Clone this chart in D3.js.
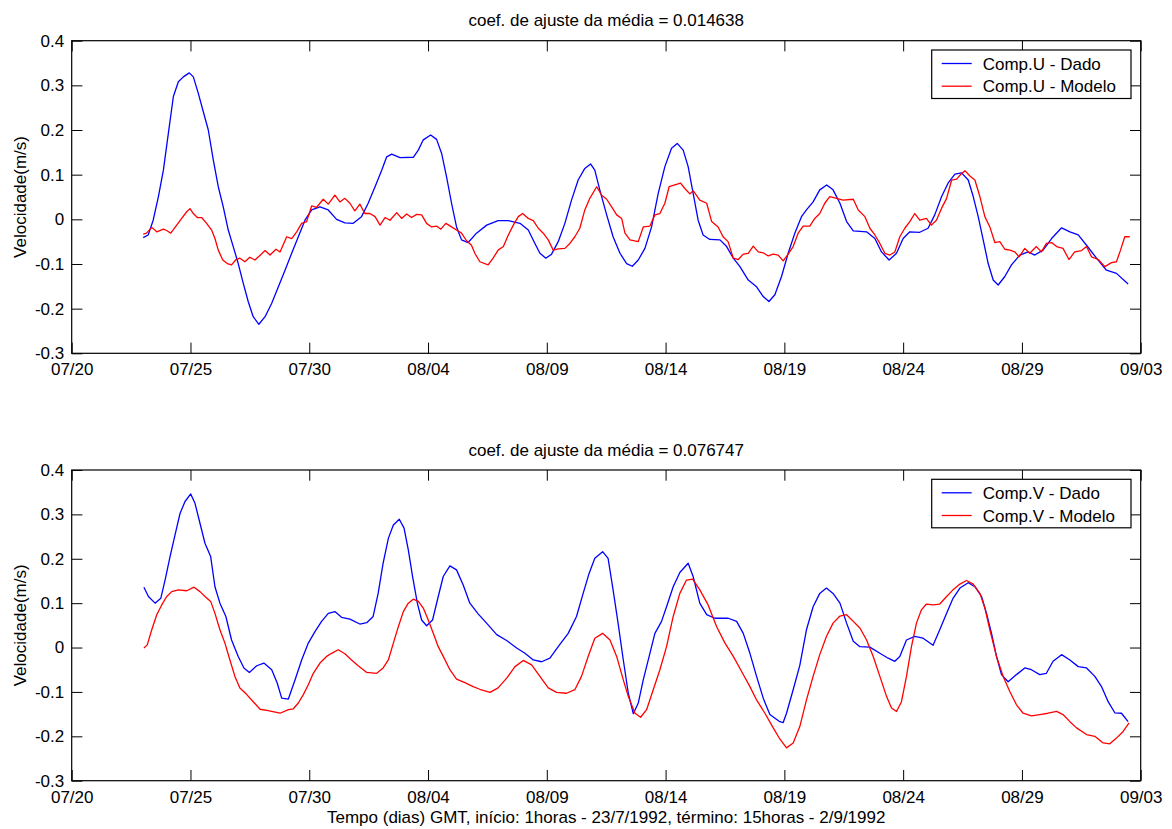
<!DOCTYPE html>
<html>
<head>
<meta charset="utf-8">
<script src="https://cdn.jsdelivr.net/npm/d3@7"></script>
<style>
  body { margin: 0; background: #fff; }
  svg text { font-family: 'Liberation Sans', Arial, sans-serif; font-size: 17px; fill: #000; }
</style>
</head>
<body>
<svg width="1172" height="829"></svg>
<script>
// days after 1992-07-20 00h, value in m/s
const compUDado = [[3.01,-0.041],[3.22,-0.035],[3.43,-0.002],[3.65,0.051],[3.86,0.110],[4.07,0.193],[4.28,0.275],[4.49,0.308],[4.70,0.319],[4.95,0.328],[5.12,0.319],[5.33,0.282],[5.54,0.241],[5.75,0.200],[5.96,0.133],[6.17,0.073],[6.38,0.028],[6.59,-0.024],[6.80,-0.061],[7.01,-0.099],[7.22,-0.143],[7.43,-0.184],[7.64,-0.218],[7.88,-0.235],[8.14,-0.218],[8.42,-0.188],[8.70,-0.151],[8.98,-0.114],[9.26,-0.076],[9.54,-0.039],[9.82,-0.002],[10.10,0.021],[10.45,0.028],[10.80,0.021],[11.15,0.000],[11.50,-0.008],[11.85,-0.009],[12.20,0.006],[12.48,0.036],[12.77,0.073],[13.05,0.110],[13.26,0.140],[13.47,0.146],[13.82,0.138],[14.38,0.139],[14.59,0.155],[14.80,0.178],[15.11,0.189],[15.36,0.179],[15.57,0.148],[15.78,0.095],[15.99,0.036],[16.20,-0.017],[16.41,-0.046],[16.69,-0.052],[17.04,-0.031],[17.47,-0.013],[17.95,-0.003],[18.38,-0.003],[18.87,-0.009],[19.22,-0.024],[19.50,-0.054],[19.71,-0.076],[19.96,-0.087],[20.20,-0.078],[20.48,-0.050],[20.76,-0.009],[21.04,0.043],[21.32,0.088],[21.60,0.114],[21.84,0.124],[22.02,0.110],[22.23,0.066],[22.52,0.010],[22.79,-0.039],[23.08,-0.076],[23.36,-0.099],[23.60,-0.105],[23.85,-0.091],[24.13,-0.065],[24.41,-0.017],[24.69,0.058],[24.97,0.118],[25.25,0.159],[25.49,0.170],[25.74,0.155],[25.95,0.118],[26.16,0.058],[26.37,-0.002],[26.58,-0.035],[26.86,-0.045],[27.29,-0.046],[27.57,-0.061],[27.85,-0.087],[28.13,-0.106],[28.48,-0.136],[28.83,-0.151],[29.11,-0.173],[29.35,-0.184],[29.60,-0.169],[29.88,-0.128],[30.16,-0.076],[30.44,-0.031],[30.72,0.006],[30.93,0.021],[31.21,0.039],[31.49,0.066],[31.78,0.077],[32.05,0.066],[32.34,0.036],[32.62,-0.005],[32.90,-0.026],[33.46,-0.028],[33.81,-0.043],[34.09,-0.073],[34.41,-0.091],[34.72,-0.076],[35.00,-0.043],[35.28,-0.028],[35.70,-0.029],[36.05,-0.020],[36.33,0.010],[36.62,0.051],[36.89,0.081],[37.18,0.101],[37.46,0.104],[37.74,0.088],[37.95,0.051],[38.16,0.006],[38.37,-0.046],[38.58,-0.099],[38.79,-0.136],[39.00,-0.147],[39.28,-0.128],[39.56,-0.102],[39.91,-0.080],[40.26,-0.073],[40.54,-0.080],[40.89,-0.069],[41.25,-0.043],[41.67,-0.019],[42.02,-0.028],[42.37,-0.035],[42.72,-0.058],[43.14,-0.087],[43.56,-0.114],[43.98,-0.121],[44.47,-0.145]];

const compUModelo = [[3.01,-0.033],[3.15,-0.031],[3.37,-0.018],[3.58,-0.028],[3.86,-0.022],[4.00,-0.025],[4.17,-0.031],[4.42,-0.013],[4.63,0.002],[4.84,0.017],[4.98,0.024],[5.12,0.013],[5.29,0.004],[5.47,0.004],[5.68,-0.009],[5.89,-0.024],[6.03,-0.043],[6.17,-0.069],[6.36,-0.091],[6.55,-0.099],[6.73,-0.102],[6.92,-0.090],[7.08,-0.087],[7.29,-0.095],[7.50,-0.085],[7.71,-0.091],[7.90,-0.082],[8.14,-0.070],[8.35,-0.080],[8.60,-0.067],[8.77,-0.073],[9.05,-0.039],[9.26,-0.043],[9.47,-0.028],[9.68,-0.009],[9.89,-0.005],[10.10,0.030],[10.31,0.027],[10.59,0.045],[10.80,0.034],[11.08,0.054],[11.29,0.039],[11.50,0.047],[11.71,0.036],[11.92,0.019],[12.13,0.034],[12.34,0.013],[12.55,0.013],[12.77,0.006],[12.98,-0.013],[13.19,0.004],[13.40,-0.002],[13.68,0.015],[13.89,0.002],[14.10,0.012],[14.31,0.004],[14.52,0.011],[14.73,0.010],[14.94,-0.009],[15.15,-0.017],[15.36,-0.015],[15.54,-0.022],[15.75,-0.009],[15.99,-0.017],[16.20,-0.024],[16.41,-0.031],[16.62,-0.048],[16.83,-0.058],[16.97,-0.076],[17.18,-0.095],[17.53,-0.102],[17.74,-0.087],[17.95,-0.069],[18.17,-0.061],[18.38,-0.035],[18.59,-0.013],[18.80,0.006],[18.98,0.013],[19.22,0.002],[19.43,-0.003],[19.64,-0.020],[19.85,-0.031],[20.06,-0.046],[20.27,-0.069],[20.48,-0.066],[20.76,-0.065],[20.97,-0.054],[21.18,-0.039],[21.39,-0.020],[21.60,0.021],[21.81,0.047],[22.10,0.073],[22.31,0.054],[22.52,0.045],[22.73,0.028],[22.94,0.010],[23.15,0.002],[23.29,-0.031],[23.50,-0.046],[23.85,-0.050],[24.06,-0.017],[24.34,-0.015],[24.55,0.010],[24.76,0.013],[24.97,0.036],[25.15,0.073],[25.39,0.077],[25.63,0.081],[25.81,0.069],[26.02,0.057],[26.16,0.064],[26.44,0.043],[26.73,0.036],[26.94,-0.005],[27.21,-0.017],[27.42,-0.039],[27.63,-0.050],[27.85,-0.087],[28.06,-0.090],[28.27,-0.078],[28.48,-0.076],[28.69,-0.060],[28.90,-0.073],[29.11,-0.075],[29.32,-0.082],[29.53,-0.078],[29.74,-0.080],[29.95,-0.093],[30.16,-0.078],[30.37,-0.061],[30.58,-0.031],[30.79,-0.015],[31.07,-0.015],[31.28,0.002],[31.49,0.013],[31.70,0.036],[31.91,0.051],[32.20,0.047],[32.47,0.043],[32.90,0.045],[33.11,0.021],[33.39,0.006],[33.60,-0.020],[33.81,-0.035],[34.02,-0.054],[34.23,-0.076],[34.44,-0.080],[34.65,-0.073],[34.86,-0.039],[35.07,-0.020],[35.28,-0.005],[35.49,0.013],[35.70,-0.002],[35.98,0.002],[36.19,-0.013],[36.40,-0.002],[36.62,0.025],[36.83,0.047],[37.04,0.088],[37.25,0.090],[37.43,0.101],[37.60,0.109],[37.81,0.097],[38.02,0.088],[38.23,0.051],[38.44,0.006],[38.65,-0.017],[38.86,-0.052],[39.07,-0.050],[39.28,-0.067],[39.49,-0.069],[39.70,-0.073],[39.88,-0.084],[40.12,-0.065],[40.33,-0.076],[40.61,-0.061],[40.82,-0.073],[41.03,-0.054],[41.25,-0.052],[41.46,-0.061],[41.73,-0.065],[41.98,-0.090],[42.22,-0.073],[42.51,-0.070],[42.72,-0.061],[42.93,-0.084],[43.21,-0.090],[43.49,-0.106],[43.77,-0.097],[43.98,-0.095],[44.15,-0.069],[44.33,-0.039],[44.54,-0.039]];

const compVDado = [[3.04,0.136],[3.23,0.115],[3.51,0.100],[3.75,0.111],[3.93,0.152],[4.14,0.205],[4.35,0.254],[4.56,0.302],[4.77,0.329],[5.01,0.346],[5.19,0.325],[5.40,0.280],[5.61,0.235],[5.85,0.205],[6.03,0.137],[6.24,0.100],[6.49,0.070],[6.73,0.017],[7.01,-0.020],[7.25,-0.046],[7.48,-0.056],[7.79,-0.041],[8.09,-0.035],[8.42,-0.050],[8.65,-0.080],[8.84,-0.114],[9.12,-0.116],[9.40,-0.073],[9.68,-0.028],[9.96,0.010],[10.24,0.036],[10.52,0.059],[10.80,0.077],[11.08,0.081],[11.36,0.068],[11.71,0.064],[12.13,0.053],[12.42,0.056],[12.69,0.070],[12.90,0.122],[13.11,0.190],[13.33,0.246],[13.54,0.276],[13.79,0.289],[13.99,0.269],[14.17,0.220],[14.35,0.160],[14.55,0.100],[14.73,0.062],[14.94,0.049],[15.19,0.062],[15.43,0.115],[15.64,0.160],[15.92,0.184],[16.20,0.175],[16.48,0.141],[16.76,0.100],[17.11,0.076],[17.53,0.051],[17.89,0.029],[18.31,0.016],[18.73,-0.001],[19.08,-0.013],[19.43,-0.028],[19.78,-0.032],[20.13,-0.024],[20.48,0.002],[20.90,0.032],[21.25,0.070],[21.53,0.122],[21.78,0.167],[22.02,0.201],[22.35,0.216],[22.58,0.201],[22.79,0.130],[23.00,0.055],[23.22,-0.028],[23.43,-0.103],[23.64,-0.149],[23.85,-0.125],[24.06,-0.073],[24.34,-0.013],[24.55,0.032],[24.83,0.059],[25.04,0.092],[25.32,0.137],[25.60,0.169],[25.95,0.190],[26.16,0.160],[26.44,0.100],[26.73,0.074],[27.07,0.066],[27.64,0.066],[27.99,0.059],[28.27,0.032],[28.55,-0.013],[28.83,-0.065],[29.11,-0.114],[29.39,-0.151],[29.81,-0.167],[29.95,-0.169],[30.09,-0.148],[30.37,-0.095],[30.65,-0.040],[30.93,0.040],[31.21,0.092],[31.49,0.122],[31.77,0.134],[32.05,0.122],[32.34,0.100],[32.62,0.055],[32.90,0.014],[33.18,0.002],[33.60,0.001],[34.02,-0.013],[34.37,-0.024],[34.65,-0.031],[34.86,-0.020],[35.14,0.017],[35.49,0.025],[35.84,0.021],[36.26,0.005],[36.54,0.040],[36.83,0.077],[37.10,0.111],[37.39,0.134],[37.74,0.146],[38.02,0.137],[38.30,0.115],[38.51,0.077],[38.72,0.032],[38.93,-0.020],[39.14,-0.061],[39.42,-0.077],[39.77,-0.061],[40.12,-0.046],[40.40,-0.050],[40.75,-0.061],[41.03,-0.058],[41.31,-0.031],[41.67,-0.016],[42.02,-0.028],[42.37,-0.043],[42.72,-0.046],[43.07,-0.065],[43.35,-0.088],[43.63,-0.122],[43.91,-0.147],[44.19,-0.148],[44.47,-0.167]];

const compVModelo = [[3.04,-0.001],[3.18,0.006],[3.37,0.040],[3.58,0.074],[3.79,0.096],[4.00,0.115],[4.21,0.126],[4.49,0.130],[4.84,0.128],[5.15,0.136],[5.40,0.126],[5.61,0.115],[5.85,0.104],[6.03,0.077],[6.24,0.040],[6.45,0.010],[6.66,-0.028],[6.87,-0.065],[7.08,-0.091],[7.37,-0.106],[7.64,-0.122],[7.93,-0.139],[8.27,-0.142],[8.77,-0.148],[9.12,-0.140],[9.33,-0.138],[9.54,-0.125],[9.75,-0.106],[9.96,-0.084],[10.17,-0.058],[10.45,-0.035],[10.73,-0.020],[10.94,-0.013],[11.22,-0.005],[11.50,-0.014],[11.78,-0.028],[12.06,-0.041],[12.42,-0.056],[12.84,-0.058],[13.11,-0.046],[13.33,-0.028],[13.54,0.010],[13.75,0.047],[13.96,0.081],[14.17,0.100],[14.38,0.109],[14.59,0.104],[14.80,0.089],[15.01,0.062],[15.22,0.032],[15.43,0.002],[15.64,-0.020],[15.92,-0.050],[16.20,-0.071],[16.55,-0.079],[16.90,-0.088],[17.18,-0.094],[17.61,-0.101],[17.95,-0.091],[18.31,-0.069],[18.66,-0.043],[19.01,-0.029],[19.36,-0.039],[19.71,-0.065],[20.06,-0.091],[20.41,-0.101],[20.83,-0.103],[21.18,-0.095],[21.46,-0.065],[21.74,-0.020],[22.02,0.021],[22.35,0.032],[22.66,0.017],[22.94,-0.020],[23.22,-0.073],[23.43,-0.110],[23.71,-0.148],[23.95,-0.157],[24.20,-0.140],[24.48,-0.095],[24.76,-0.050],[25.04,0.002],[25.32,0.070],[25.60,0.122],[25.88,0.152],[26.14,0.154],[26.44,0.130],[26.79,0.096],[27.15,0.047],[27.50,0.010],[27.85,-0.020],[28.20,-0.054],[28.55,-0.088],[28.83,-0.118],[29.18,-0.148],[29.53,-0.181],[29.81,-0.206],[30.09,-0.226],[30.37,-0.215],[30.65,-0.178],[30.93,-0.118],[31.21,-0.065],[31.49,-0.016],[31.77,0.025],[32.05,0.055],[32.34,0.071],[32.62,0.074],[32.90,0.059],[33.18,0.044],[33.46,0.017],[33.74,-0.020],[34.02,-0.065],[34.30,-0.110],[34.51,-0.136],[34.72,-0.144],[34.93,-0.122],[35.14,-0.065],[35.35,0.002],[35.56,0.055],[35.77,0.085],[35.98,0.098],[36.26,0.096],[36.54,0.098],[36.83,0.115],[37.10,0.130],[37.39,0.143],[37.67,0.151],[37.95,0.143],[38.23,0.122],[38.44,0.089],[38.65,0.040],[38.93,-0.020],[39.21,-0.065],[39.49,-0.099],[39.77,-0.129],[40.05,-0.148],[40.40,-0.154],[40.75,-0.151],[41.10,-0.148],[41.46,-0.144],[41.73,-0.151],[42.02,-0.167],[42.30,-0.181],[42.72,-0.196],[43.07,-0.200],[43.42,-0.215],[43.70,-0.217],[43.98,-0.204],[44.26,-0.189],[44.51,-0.170]];

const yTicks = [-0.3, -0.2, -0.1, 0, 0.1, 0.2, 0.3, 0.4];
const titles = ['coef. de ajuste da média = 0.014638', 'coef. de ajuste da média = 0.076747'];
const legendU = ['Comp.U - Dado', 'Comp.U - Modelo'];
const legendV = ['Comp.V - Dado', 'Comp.V - Modelo'];
const yAxisLabel = 'Velocidade(m/s)';
const xAxisLabel = 'Tempo (dias) GMT, início: 1horas - 23/7/1992, término: 15horas - 2/9/1992';

const svg = d3.select('svg');
const start = Date.UTC(1992, 6, 20);
const toDate = (d) => new Date(start + d * 864e5);
const xTicks = d3.range(0, 46, 5).map(toDate);

const left = 71.7, right = 1140.7, tick = 10.7;
const xScale = d3.scaleUtc()
    .domain([toDate(0), toDate(45)])
    .range([left, right]);

const colors = ['#0000ff', '#ff0000'];

const drawPanel = (top, bottom, series, legend, title) => {
    const yScale = d3.scaleLinear().domain([-0.3, 0.4]).range([bottom, top]);
    const g = svg.append('g');

    const xAxis = d3.axisBottom(xScale)
        .tickValues(xTicks)
        .tickFormat(d3.utcFormat('%m/%d'))
        .tickSizeInner(-tick).tickSizeOuter(0).tickPadding(10);
    const xAxisG = g.append('g')
        .attr('transform', `translate(0, ${bottom})`)
        .call(xAxis);

    g.append('g')
        .attr('transform', `translate(0, ${top})`)
        .call(d3.axisTop(xScale).tickValues(xTicks).tickFormat('')
            .tickSizeInner(-tick).tickSizeOuter(0));

    const yAxis = d3.axisLeft(yScale)
        .tickValues(yTicks)
        .tickFormat((d) => String(+d.toFixed(1)))
        .tickSizeInner(-tick).tickSizeOuter(0).tickPadding(7.5);
    const yAxisG = g.append('g')
        .attr('transform', `translate(${left}, 0)`)
        .call(yAxis);

    g.append('g')
        .attr('transform', `translate(${right}, 0)`)
        .call(d3.axisRight(yScale).tickValues(yTicks).tickFormat('')
            .tickSizeInner(-tick).tickSizeOuter(0));

    g.selectAll('.domain').remove();
    g.selectAll('.tick line').attr('stroke', '#000');
    g.selectAll('.tick text').attr('fill', '#000').style('font-size', '17px')
        .style('font-family', "'Liberation Sans', Arial, sans-serif");

    const line = d3.line()
        .x((d) => xScale(toDate(d[0])))
        .y((d) => yScale(d[1]));

    series.forEach((s, i) => {
        g.append('path')
            .datum(s)
            .attr('fill', 'none')
            .attr('stroke', colors[i])
            .attr('stroke-width', 1.3)
            .attr('stroke-linejoin', 'round')
            .attr('d', line);
    });

    g.append('rect')
        .attr('x', left).attr('y', top)
        .attr('width', right - left).attr('height', bottom - top)
        .attr('fill', 'none').attr('stroke', '#000').attr('stroke-width', 1.2);

    g.append('text')
        .attr('x', (left + right) / 2)
        .attr('y', top - 14.5)
        .attr('text-anchor', 'middle')
        .text(title);

    g.append('text')
        .attr('transform', `translate(20, ${(top + bottom) / 2}) rotate(-90)`)
        .attr('text-anchor', 'middle')
        .attr('dy', '0.35em')
        .text(yAxisLabel);

    // legend
    const lg = g.append('g').attr('transform', `translate(931.7, ${top + 9.3})`);
    lg.append('rect')
        .attr('width', 199.3).attr('height', 48.5)
        .attr('fill', '#fff').attr('stroke', '#000').attr('stroke-width', 1.2);
    legend.forEach((label, i) => {
        const ly = 13.5 + i * 22.7;
        lg.append('line')
            .attr('x1', 10).attr('x2', 40).attr('y1', ly).attr('y2', ly)
            .attr('stroke', colors[i]).attr('stroke-width', 1.3);
        lg.append('text')
            .attr('x', 51).attr('y', ly).attr('dy', '0.36em')
            .text(label);
    });
};

drawPanel(40.7, 353.3, [compUDado, compUModelo], legendU, titles[0]);
drawPanel(470, 780.7, [compVDado, compVModelo], legendV, titles[1]);

svg.append('text')
    .attr('x', (left + right) / 2)
    .attr('y', 823)
    .attr('text-anchor', 'middle')
    .text(xAxisLabel);
</script>
</body>
</html>
